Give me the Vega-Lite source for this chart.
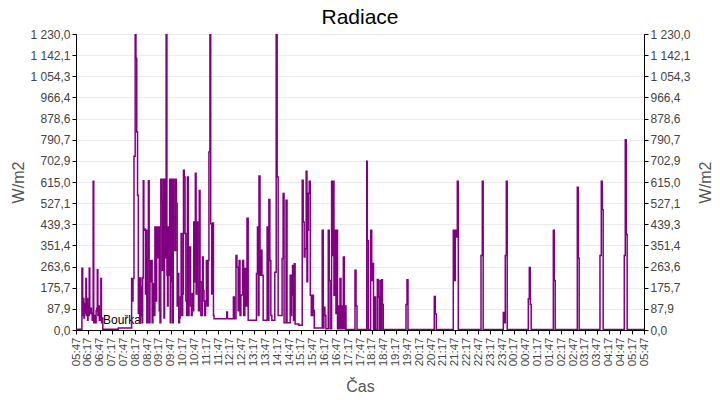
{
  "$schema": "https://vega.github.io/schema/vega-lite/v6.json",
  "width": 568,
  "height": 296,
  "autosize": {"type": "none"},
  "padding": {"left": 76, "top": 34, "right": 76, "bottom": 70},
  "title": {"text": "Radiace", "fontSize": 21, "font": "Liberation Sans", "fontWeight": "normal", "color": "#000000", "anchor": "middle", "offset": 0},
  "datasets": {
    "radiace": [
      {"min": 0, "value": 3}, {"min": 14, "value": 3}, {"min": 15, "value": 257}, {"min": 17, "value": 60},
      {"min": 18.5, "value": 131}, {"min": 20, "value": 50}, {"min": 21.5, "value": 110}, {"min": 23, "value": 70},
      {"min": 25, "value": 214}, {"min": 26.5, "value": 60}, {"min": 28, "value": 131}, {"min": 29.5, "value": 40},
      {"min": 30.5, "value": 100}, {"min": 32, "value": 60}, {"min": 33.5, "value": 257}, {"min": 35, "value": 69},
      {"min": 37, "value": 90}, {"min": 39, "value": 69}, {"min": 41, "value": 40}, {"min": 43.5, "value": 618},
      {"min": 45, "value": 30}, {"min": 47, "value": 60}, {"min": 49, "value": 30}, {"min": 51, "value": 80},
      {"min": 52.5, "value": 89}, {"min": 54, "value": 250}, {"min": 55.5, "value": 60}, {"min": 57, "value": 100},
      {"min": 59, "value": 40}, {"min": 61, "value": 60}, {"min": 63, "value": 214}, {"min": 64.5, "value": 30},
      {"min": 66, "value": 50}, {"min": 68, "value": 3}, {"min": 106, "value": 3}, {"min": 107, "value": 8},
      {"min": 139, "value": 8}, {"min": 141, "value": 214}, {"min": 143, "value": 120}, {"min": 144.5, "value": 214},
      {"min": 147, "value": 722}, {"min": 150, "value": 1230}, {"min": 152, "value": 1129}, {"min": 154, "value": 823},
      {"min": 156, "value": 560}, {"min": 158, "value": 69}, {"min": 160, "value": 216}, {"min": 161.5, "value": 30},
      {"min": 163, "value": 216}, {"min": 164.5, "value": 60}, {"min": 166, "value": 180}, {"min": 167.5, "value": 30},
      {"min": 169, "value": 216}, {"min": 170.5, "value": 620}, {"min": 172, "value": 414}, {"min": 174, "value": 420},
      {"min": 176, "value": 150}, {"min": 178, "value": 414}, {"min": 179.5, "value": 30}, {"min": 181.5, "value": 300},
      {"min": 183.5, "value": 620}, {"min": 185.5, "value": 30}, {"min": 187.5, "value": 289}, {"min": 189.5, "value": 200},
      {"min": 191, "value": 289}, {"min": 193, "value": 30}, {"min": 195, "value": 100}, {"min": 196.5, "value": 193},
      {"min": 198.5, "value": 60}, {"min": 200, "value": 428}, {"min": 202.5, "value": 120}, {"min": 204.5, "value": 428},
      {"min": 206.5, "value": 300}, {"min": 208.5, "value": 428}, {"min": 211, "value": 80}, {"min": 213, "value": 30},
      {"min": 215, "value": 626}, {"min": 217, "value": 532}, {"min": 219, "value": 248}, {"min": 221, "value": 626},
      {"min": 223, "value": 50}, {"min": 224.5, "value": 626}, {"min": 226.5, "value": 300}, {"min": 228.5, "value": 1230},
      {"min": 230.5, "value": 227}, {"min": 232, "value": 100}, {"min": 233.5, "value": 428}, {"min": 235.5, "value": 227},
      {"min": 237.5, "value": 626}, {"min": 239, "value": 30}, {"min": 240.5, "value": 626}, {"min": 242, "value": 200},
      {"min": 243.5, "value": 626}, {"min": 245, "value": 30}, {"min": 246.5, "value": 626}, {"min": 248.5, "value": 470},
      {"min": 250.5, "value": 330}, {"min": 252.5, "value": 626}, {"min": 254.5, "value": 526}, {"min": 256.5, "value": 100},
      {"min": 258.5, "value": 235}, {"min": 260.5, "value": 30}, {"min": 262.5, "value": 50}, {"min": 264.5, "value": 137},
      {"min": 266.5, "value": 401}, {"min": 268.5, "value": 60}, {"min": 270.5, "value": 150}, {"min": 272.5, "value": 664},
      {"min": 274.5, "value": 636}, {"min": 276.5, "value": 401}, {"min": 278.5, "value": 120}, {"min": 280.5, "value": 60},
      {"min": 282.5, "value": 636}, {"min": 284.5, "value": 60}, {"min": 286.5, "value": 200}, {"min": 288.5, "value": 345},
      {"min": 290.5, "value": 100}, {"min": 292.5, "value": 60}, {"min": 294.5, "value": 152}, {"min": 296.5, "value": 80},
      {"min": 298.5, "value": 449}, {"min": 300.5, "value": 200}, {"min": 302.5, "value": 651}, {"min": 304.5, "value": 150},
      {"min": 306.5, "value": 449}, {"min": 308.5, "value": 178}, {"min": 310.5, "value": 80}, {"min": 312.5, "value": 580},
      {"min": 314.5, "value": 200}, {"min": 316.5, "value": 60}, {"min": 320.5, "value": 303}, {"min": 322.5, "value": 164},
      {"min": 324.5, "value": 120}, {"min": 326.5, "value": 60}, {"min": 328.5, "value": 120}, {"min": 330.5, "value": 289},
      {"min": 332.5, "value": 100}, {"min": 335, "value": 289}, {"min": 337, "value": 740}, {"min": 339.5, "value": 1230},
      {"min": 341.5, "value": 442}, {"min": 344, "value": 150}, {"min": 346.5, "value": 445}, {"min": 348.5, "value": 60},
      {"min": 350, "value": 47}, {"min": 382, "value": 75}, {"min": 384, "value": 47}, {"min": 399, "value": 137},
      {"min": 401.5, "value": 47}, {"min": 405.6, "value": 310}, {"min": 408, "value": 261}, {"min": 411, "value": 80},
      {"min": 413.5, "value": 289}, {"min": 415.8, "value": 60}, {"min": 418, "value": 145}, {"min": 422.5, "value": 289},
      {"min": 425, "value": 60}, {"min": 428, "value": 256}, {"min": 430.5, "value": 100}, {"min": 433.5, "value": 464},
      {"min": 436.5, "value": 40}, {"min": 457.5, "value": 235}, {"min": 460, "value": 428}, {"min": 462.2, "value": 60},
      {"min": 463.9, "value": 640}, {"min": 466.5, "value": 227}, {"min": 469, "value": 331}, {"min": 471.5, "value": 227},
      {"min": 474.5, "value": 40}, {"min": 484.5, "value": 428}, {"min": 487, "value": 40}, {"min": 489, "value": 542},
      {"min": 491.5, "value": 289}, {"min": 494, "value": 60}, {"min": 496.5, "value": 40}, {"min": 504, "value": 240},
      {"min": 507.5, "value": 1230}, {"min": 510, "value": 636}, {"min": 512.5, "value": 60}, {"min": 522.5, "value": 297},
      {"min": 525, "value": 567}, {"min": 527.5, "value": 30}, {"min": 532.5, "value": 539}, {"min": 535, "value": 30},
      {"min": 543, "value": 227}, {"min": 545.5, "value": 60}, {"min": 546.8, "value": 145}, {"min": 549, "value": 268},
      {"min": 551.4, "value": 40}, {"min": 553.4, "value": 275}, {"min": 555.5, "value": 25}, {"min": 565, "value": 20},
      {"min": 573.5, "value": 622}, {"min": 576, "value": 449}, {"min": 578.5, "value": 303}, {"min": 580.6, "value": 338},
      {"min": 583.5, "value": 660}, {"min": 585.5, "value": 200}, {"min": 587.3, "value": 414}, {"min": 589.3, "value": 568},
      {"min": 591.3, "value": 618}, {"min": 594, "value": 144}, {"min": 596.5, "value": 60}, {"min": 600, "value": 144},
      {"min": 602, "value": 81}, {"min": 604, "value": 8}, {"min": 624.2, "value": 414}, {"min": 626.8, "value": 8},
      {"min": 628.5, "value": 95}, {"min": 631, "value": 60}, {"min": 633.5, "value": 5}, {"min": 639.5, "value": 414},
      {"min": 642, "value": 206}, {"min": 644, "value": 5}, {"min": 648, "value": 618}, {"min": 649.7, "value": 310},
      {"min": 652, "value": 618}, {"min": 654, "value": 144}, {"min": 656.5, "value": 414}, {"min": 659, "value": 69},
      {"min": 661, "value": 414}, {"min": 663, "value": 5}, {"min": 665, "value": 100}, {"min": 666.8, "value": 5},
      {"min": 669.3, "value": 214}, {"min": 671.8, "value": 5}, {"min": 673.6, "value": 100}, {"min": 675.6, "value": 5},
      {"min": 677.7, "value": 303}, {"min": 680, "value": 5}, {"min": 681.9, "value": 100}, {"min": 684.5, "value": 2},
      {"min": 707.3, "value": 248}, {"min": 709.9, "value": 100}, {"min": 712.4, "value": 2}, {"min": 737, "value": 701},
      {"min": 738.5, "value": 372}, {"min": 741, "value": 2}, {"min": 747, "value": 414}, {"min": 749.7, "value": 206},
      {"min": 752.2, "value": 276}, {"min": 754.3, "value": 2}, {"min": 756.8, "value": 137}, {"min": 759.3, "value": 2},
      {"min": 763.9, "value": 210}, {"min": 766.4, "value": 137}, {"min": 768.7, "value": 2}, {"min": 770.7, "value": 206},
      {"min": 773.2, "value": 2}, {"min": 775, "value": 209}, {"min": 777, "value": 106}, {"min": 779, "value": 2},
      {"min": 836.6, "value": 106}, {"min": 839.1, "value": 209}, {"min": 841.7, "value": 2}, {"min": 908.3, "value": 139},
      {"min": 910.9, "value": 67}, {"min": 913.4, "value": 2}, {"min": 956.5, "value": 414}, {"min": 959, "value": 206},
      {"min": 961.6, "value": 414}, {"min": 964.1, "value": 386}, {"min": 966.7, "value": 618}, {"min": 969.2, "value": 2},
      {"min": 1026.8, "value": 310}, {"min": 1030, "value": 618}, {"min": 1032.3, "value": 2}, {"min": 1083.3, "value": 73},
      {"min": 1085.8, "value": 30}, {"min": 1088.3, "value": 310}, {"min": 1090.9, "value": 618}, {"min": 1093.2, "value": 2},
      {"min": 1146.7, "value": 130}, {"min": 1149.2, "value": 260}, {"min": 1151.8, "value": 106}, {"min": 1154, "value": 2},
      {"min": 1210.1, "value": 414}, {"min": 1212.6, "value": 206}, {"min": 1214.9, "value": 2}, {"min": 1270.9, "value": 593},
      {"min": 1273.5, "value": 298}, {"min": 1275.7, "value": 2}, {"min": 1328.4, "value": 310}, {"min": 1331.7, "value": 618},
      {"min": 1334.3, "value": 501}, {"min": 1336.5, "value": 2}, {"min": 1390, "value": 310}, {"min": 1392.5, "value": 791},
      {"min": 1395, "value": 397}, {"min": 1397.3, "value": 2}, {"min": 1440, "value": 2}
    ],
    "udalosti": [
      {"min": 68.5, "value": 42, "label": "Bouřka"}
    ]
  },
  "encoding": {
    "x": {
      "field": "min", "type": "quantitative",
      "scale": {"domain": [0, 1440], "nice": false, "zero": false},
      "axis": {
        "title": "Čas",
        "values": [0,30,60,90,120,150,180,210,240,270,300,330,360,390,420,450,480,510,540,570,600,630,660,690,720,750,780,810,840,870,900,930,960,990,1020,1050,1080,1110,1140,1170,1200,1230,1260,1290,1320,1350,1380,1410,1440],
        "labelExpr": "timeFormat(datetime(2024, 0, 1, 5, 47 + datum.value), '%H:%M')",
        "labelAngle": -90,
        "labelAlign": "right",
        "labelBaseline": "middle",
        "labelFontSize": 11.5,
        "labelPadding": 3,
        "tickSize": 4,
        "grid": false,
        "labelOverlap": false,
        "labelFlush": false,
        "titleY": 56,
        "titleBaseline": "middle"
      }
    }
  },
  "layer": [
    {
      "data": {"name": "udalosti"},
      "mark": {"type": "text", "align": "left", "baseline": "middle", "font": "Liberation Sans", "fontSize": 12, "color": "#000000"},
      "encoding": {
        "y": {"field": "value", "type": "quantitative", "scale": {"domain": [0, 1230], "nice": false}, "axis": null},
        "text": {"field": "label"}
      }
    },
    {
      "data": {"name": "radiace"},
      "mark": {"type": "line", "interpolate": "step-after", "color": "#800080", "strokeWidth": 1.5, "clip": true},
      "encoding": {
        "y": {
          "field": "value", "type": "quantitative",
          "scale": {"domain": [0, 1230], "nice": false},
          "axis": {
            "title": "W/m2",
            "orient": "left",
            "values": [0, 87.857, 175.714, 263.571, 351.429, 439.286, 527.143, 615, 702.857, 790.714, 878.571, 966.429, 1054.286, 1142.143, 1230],
            "labelExpr": "replace(replace(format(datum.value, ',.1f'), ',', ' '), '.', ',')",
            "grid": true,
            "tickSize": 4,
            "labelPadding": 2,
            "labelOverlap": false,
            "titleX": -58,
            "titleY": 148,
            "titleAngle": -90,
            "titleAlign": "center",
            "titleBaseline": "middle"
          }
        }
      }
    },
    {
      "data": {"name": "radiace"},
      "mark": {"type": "line", "opacity": 0},
      "encoding": {
        "y": {
          "field": "value", "type": "quantitative",
          "scale": {"domain": [0, 1230], "nice": false},
          "axis": {
            "title": "W/m2",
            "orient": "right",
            "values": [0, 87.857, 175.714, 263.571, 351.429, 439.286, 527.143, 615, 702.857, 790.714, 878.571, 966.429, 1054.286, 1142.143, 1230],
            "labelExpr": "replace(replace(format(datum.value, ',.1f'), ',', ' '), '.', ',')",
            "grid": false,
            "tickSize": 4,
            "labelPadding": 2,
            "labelOverlap": false,
            "titleX": 61,
            "titleY": 148,
            "titleAngle": -90,
            "titleAlign": "center",
            "titleBaseline": "middle"
          }
        }
      }
    }
  ],
  "resolve": {"scale": {"y": "independent"}},
  "config": {
    "view": {"stroke": "#000000", "strokeWidth": 1},
    "axis": {
      "labelFont": "Liberation Sans",
      "labelFontSize": 12,
      "labelColor": "#444444",
      "titleFont": "Liberation Sans",
      "titleFontSize": 16,
      "titleFontWeight": "normal",
      "titleColor": "#555555",
      "domainColor": "#000000",
      "tickColor": "#000000",
      "gridColor": "#ebebeb",
      "gridWidth": 1
    }
  }
}
